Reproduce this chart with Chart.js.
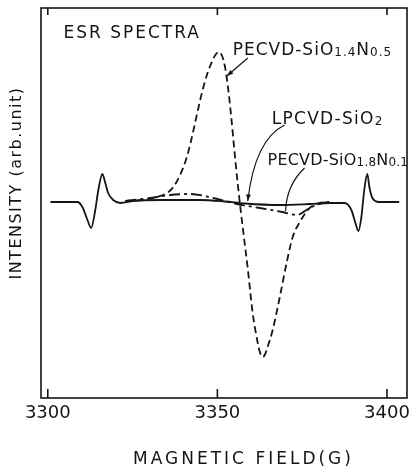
<!DOCTYPE html>
<html><head><meta charset="utf-8">
<script src="https://cdn.jsdelivr.net/npm/chart.js@4/dist/chart.umd.min.js"></script>
<style>html,body{margin:0;padding:0;background:#fff}#wrap{width:416px;height:473px;position:relative}</style>
</head><body><div id="wrap"><canvas id="c" width="416" height="473"></canvas></div>
<script>
// ---- data ----
const X_TICKS = [3300, 3350, 3400];
const X_MIN = 3298.0, X_MAX = 3405.9;
const Y_MIN = -196, Y_MAX = 194;

// LPCVD-SiO2 (solid, with marker lines)
const SOLID_FIELD = [3300.8,3308.7,3310.2,3311.7,3312.8,3314.0,3314.9,3316.1,3316.95,3317.8,3319.3,3321.4,3325.2,3333.1,3344.9,3352.2,3358.1,3368.4,3377.2,3383.0,3387.5,3389.5,3390.7,3391.6,3392.45,3393.3,3394.2,3394.8,3395.7,3397.7,3403.6];
const SOLID_INT   = [0,0,-5,-18,-26,-8,12,28,19,9,2,-1,1,2,2,0.5,-1.5,-3,-2,-1,-1,-8,-21,-29,-15,12,28,15,4,0,0];

// PECVD-SiO1.4N0.5 (dashed)
const DASH_FIELD = [3322.9,3328.0,3332.0,3335.2,3337.0,3339.0,3341.0,3342.5,3344.0,3345.5,3347.0,3348.5,3349.6,3350.5,3351.4,3352.2,3353.0,3354.0,3355.0,3356.0,3357.0,3358.0,3359.0,3360.4,3361.9,3362.6,3363.4,3364.1,3364.8,3366.3,3368.4,3370.4,3372.2,3374.3,3377.2,3380.1,3383.0];
const DASH_INT   = [1,2,5,9,15,27,45,65,88,110,128,141,148,150,146,136,118,88,52,18,-12,-40,-68,-111,-141,-151,-155,-152,-145,-128,-95,-61,-35,-20,-6,-1,0];

// PECVD-SiO1.8N0.1 (dash-dot)
const DD_FIELD = [3322.9,3332.3,3336.0,3342.0,3348.7,3355.7,3362.5,3369.2,3373.3,3377.2,3379.2,3381.6,3383.9];
const DD_INT   = [1,5,7,8,4,-2,-6,-10,-13,-6,-3,-0.5,0];

const INK = '#151515';
const FONT = '"DejaVu Sans", sans-serif';

function pts(xs, ys){ return xs.map((v,i)=>({x:v, y:ys[i]})); }

function drawRich(ctx, x, y, parts, size, spacing){
  let cx = x;
  parts.forEach(p=>{
    const fs = p.sub ? Math.round(size*0.72) : size;
    ctx.font = fs + 'px ' + FONT;
    ctx.letterSpacing = spacing + 'px';
    const dy = p.sub ? 1 : 0;
    ctx.fillText(p.t, cx, y + dy);
    cx += ctx.measureText(p.t).width;
  });
}
function arrowHead(ctx, x0, y0, x1, y1, len){
  const ang = Math.atan2(y1-y0, x1-x0);
  ctx.beginPath();
  ctx.moveTo(x1, y1);
  ctx.lineTo(x1 - len*Math.cos(ang-0.35), y1 - len*Math.sin(ang-0.35));
  ctx.lineTo(x1 - len*Math.cos(ang+0.35), y1 - len*Math.sin(ang+0.35));
  ctx.closePath(); ctx.fill();
}

const deco = {
  id: 'deco',
  afterDraw(chart){
    const {ctx, chartArea:a, scales:{x, y}} = chart;
    const P = (f, v) => [x.getPixelForValue(f), y.getPixelForValue(v)];
    ctx.save();
    ctx.strokeStyle = INK; ctx.fillStyle = INK; ctx.lineWidth = 1.6;
    ctx.strokeRect(a.left, a.top, a.right - a.left, a.bottom - a.top);
    X_TICKS.forEach(v=>{
      const px = x.getPixelForValue(v);
      ctx.beginPath(); ctx.moveTo(px, a.bottom); ctx.lineTo(px, a.bottom - 9); ctx.stroke();
      ctx.beginPath(); ctx.moveTo(px, a.top); ctx.lineTo(px, a.top + 7); ctx.stroke();
    });
    ctx.textBaseline = 'alphabetic'; ctx.textAlign = 'left';
    // inner title
    let [tx, ty] = P(3304.6, 164);
    drawRich(ctx, tx, ty, [{t:'ESR SPECTRA'}], 17, 2);
    // labels
    [tx, ty] = P(3354.5, 147);
    drawRich(ctx, tx, ty, [{t:'PECVD-SiO'},{t:'1.4',sub:true},{t:'N'},{t:'0.5',sub:true}], 17, 1);
    [tx, ty] = P(3366.0, 78);
    drawRich(ctx, tx, ty, [{t:'LPCVD-SiO'},{t:'2',sub:true}], 17, 1.3);
    [tx, ty] = P(3364.8, 37);
    drawRich(ctx, tx, ty, [{t:'PECVD-SiO'},{t:'1.8',sub:true},{t:'N'},{t:'0.1',sub:true}], 16, 0.2);
    // leader lines
    ctx.lineWidth = 1.2;
    let [ax, ay] = P(3358.96, 144), [bx, by] = P(3352.8, 126);
    ctx.beginPath(); ctx.moveTo(ax, ay); ctx.lineTo(bx, by); ctx.stroke();
    arrowHead(ctx, ax, ay, bx, by, 7);
    let [s2x, s2y] = P(3369.8, 77), [c2x, c2y] = P(3361.0, 62), [e2x, e2y] = P(3358.96, 1);
    ctx.beginPath(); ctx.moveTo(s2x, s2y); ctx.quadraticCurveTo(c2x, c2y, e2x, e2y); ctx.stroke();
    arrowHead(ctx, c2x, c2y, e2x, e2y, 7);
    let [s3x, s3y] = P(3375.7, 34), [c3x, c3y] = P(3370.4, 17), [e3x, e3y] = P(3370.1, -9);
    ctx.beginPath(); ctx.moveTo(s3x, s3y); ctx.quadraticCurveTo(c3x, c3y, e3x, e3y); ctx.stroke();
    // axis titles
    ctx.font = '17px ' + FONT; ctx.letterSpacing = '3px'; ctx.textAlign = 'center'; ctx.textBaseline = 'middle';
    ctx.fillText('MAGNETIC FIELD(G)', x.getPixelForValue(3357.7), a.bottom + 62);
    ctx.save();
    ctx.translate(17, y.getPixelForValue(19));
    ctx.rotate(-Math.PI/2);
    ctx.font = '16px ' + FONT; ctx.letterSpacing = '1.5px';
    ctx.fillText('INTENSITY (arb.unit)', 0, 0);
    ctx.restore();
    ctx.restore();
  }
};

new Chart(document.getElementById('c'), {
  type: 'line',
  data: {
    datasets: [
      {label:'LPCVD-SiO2', data: pts(SOLID_FIELD, SOLID_INT), borderColor: INK, borderWidth: 1.8, pointRadius: 0, cubicInterpolationMode: 'monotone', fill: false},
      {label:'PECVD-SiO1.4N0.5', data: pts(DASH_FIELD, DASH_INT), borderColor: INK, borderWidth: 1.8, borderDash: [7,4], pointRadius: 0, cubicInterpolationMode: 'monotone', fill: false},
      {label:'PECVD-SiO1.8N0.1', data: pts(DD_FIELD, DD_INT), borderColor: INK, borderWidth: 1.8, borderDash: [11,4,3,4], pointRadius: 0, cubicInterpolationMode: 'monotone', fill: false}
    ]
  },
  options: {
    responsive: false, animation: false, devicePixelRatio: 1,
    layout: {padding: {left: 0, top: 8, right: 9, bottom: 0}},
    plugins: {legend: {display: false}, tooltip: {enabled: false}},
    scales: {
      x: {
        type: 'linear', min: X_MIN, max: X_MAX,
        grid: {display: false, drawTicks: false}, border: {display: false},
        afterBuildTicks: s => { s.ticks = X_TICKS.map(v => ({value: v})); },
        afterFit: s => { s.height = 75; },
        ticks: {color: INK, font: {family: FONT, size: 18}, padding: 5, maxRotation: 0, autoSkip: false, callback: v => String(v)}
      },
      y: {
        type: 'linear', min: Y_MIN, max: Y_MAX,
        grid: {display: false, drawTicks: false}, border: {display: false},
        ticks: {display: false},
        afterFit: s => { s.width = 41; }
      }
    }
  },
  plugins: [deco]
});
</script></body></html>
